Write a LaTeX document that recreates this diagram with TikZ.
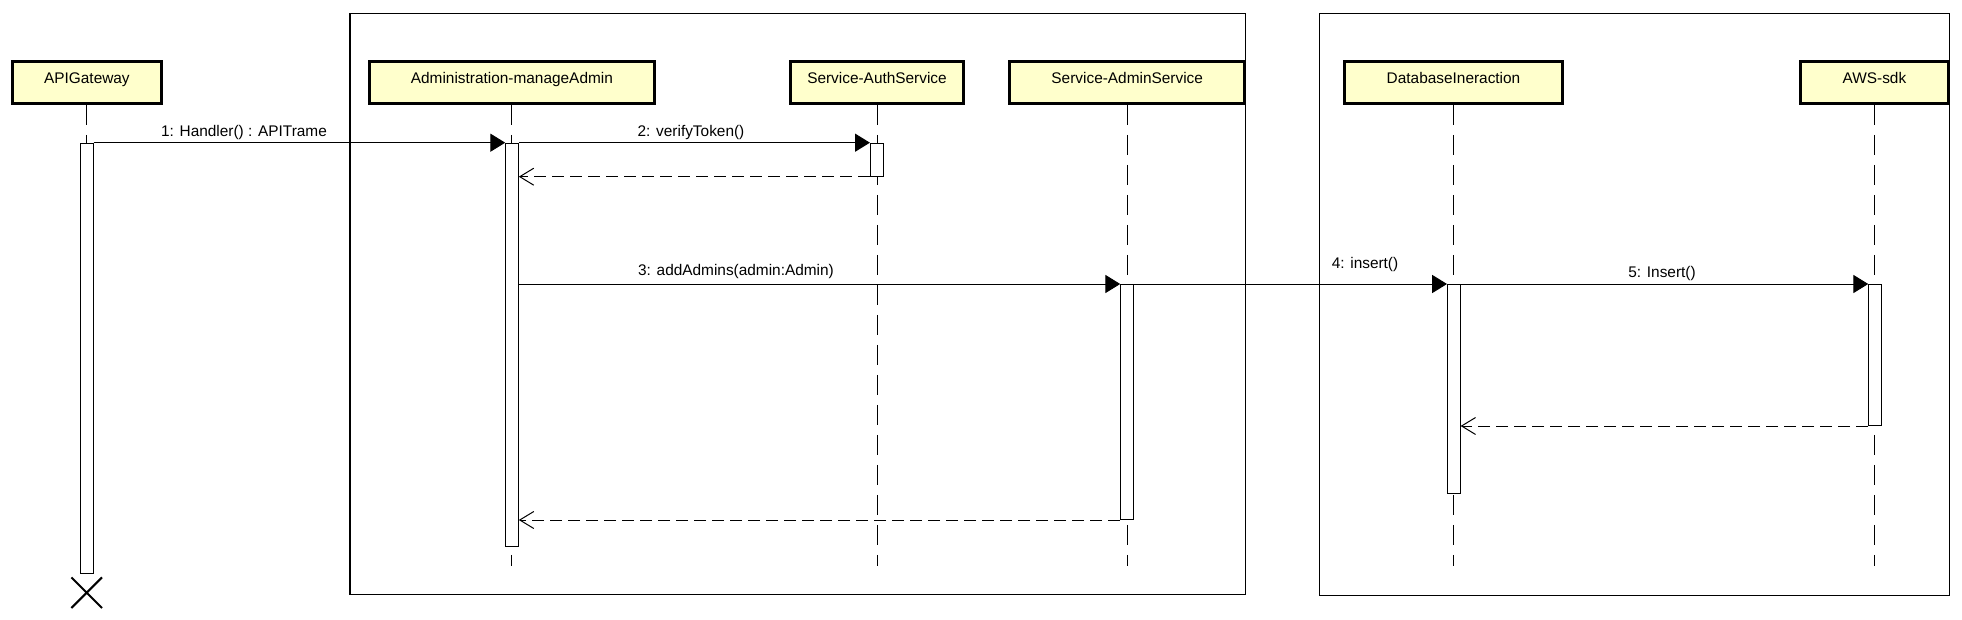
\documentclass[tikz,border=0pt]{standalone}
\usepackage{fontspec}
\setmainfont{Liberation Sans}
\usetikzlibrary{arrows.meta,shapes.misc}
\definecolor{objyellow}{RGB}{255,255,204}
\tikzstyle{obj}=[rectangle, fill=objyellow, draw=black, line width=1.5pt, minimum height=20.8pt, inner sep=0pt, text height=5.6pt, text depth=4.4pt, anchor=center, font=\fontsize{7.7}{9}\selectfont]
\tikzstyle{act}=[rectangle, fill=white, draw=black, line width=0.5pt, minimum width=6.3pt, inner sep=0pt, anchor=north]
\tikzstyle{lifeline}=[line width=0.5pt, dash pattern=on 10pt off 5pt]
\tikzstyle{call}=[line width=0.5pt, -{Triangle[length=7.4pt,width=9pt]}]
\tikzstyle{reply}=[line width=0.5pt, dash pattern=on 6pt off 3pt, -{Straight Barb[length=7pt,width=8.5pt]}]
\tikzstyle{msg}=[inner sep=0pt, font=\fontsize{7.7}{9}\selectfont]
\tikzstyle{grp}=[rectangle, draw=black, line width=0.6pt, inner sep=0pt, anchor=north west]

\begin{document}
\begin{tikzpicture}[x=0.5pt, y=-0.5pt]
	\useasboundingbox (0,0) rectangle (1962,620);

	% packages
	\node[grp, minimum width=447.7pt, minimum height=290.4pt] (grpService) at (349.3,13.3) {};
	\node[grp, minimum width=315pt, minimum height=290.8pt] (grpData) at (1319,13.3) {};

	\node[obj, minimum width=74.3pt] (oAPI) at (86.9,82.5) {APIGateway};
	\node[obj, minimum width=142.8pt] (oAdmin) at (511.9,82.5) {Administration-manageAdmin};
	\node[obj, minimum width=86.2pt] (oAuth) at (877,82.5) {Service-AuthService};
	\node[obj, minimum width=117.6pt] (oAdminSvc) at (1127.2,82.5) {Service-AdminService};
	\node[obj, minimum width=109.2pt] (oDb) at (1453.5,82.5) {DatabaseIneraction};
	\node[obj, minimum width=73.6pt] (oAws) at (1874.4,82.5) {AWS-sdk};

	\coordinate (lifeEnd) at (0,566);
	\foreach \o in {oAPI,oAdmin,oAuth,oAdminSvc,oDb,oAws}
		\draw[lifeline] (\o.south) -- (\o.south |- lifeEnd);

	% activations
	\node[act, minimum height=215.3pt] (aAPI) at (86.7,142.7) {};
	\node[act, minimum height=201.7pt] (aAdmin) at (512,142.7) {};
	\node[act, minimum height=16.5pt] (aAuth) at (876.7,142.7) {};
	\node[act, minimum height=117.5pt] (aAdminSvc) at (1127,284) {};
	\node[act, minimum height=104.5pt] (aDb) at (1453.8,284) {};
	\node[act, minimum height=70.5pt] (aAws) at (1875,284) {};

	\node[draw, cross out, line width=1pt, minimum size=14.3pt, inner sep=0pt] (endAPI) at (86.7,592.7) {};

	\draw[call] (aAPI.north east) -- (aAdmin.north west);
	\draw[call] (aAdmin.north east) -- (aAuth.north west);
	\draw[reply] (aAuth.south west) -- (aAdmin.east |- aAuth.south west);
	\draw[call] (aAdmin.east |- aAdminSvc.north) -- (aAdminSvc.north west);
	\draw[call] (aAdminSvc.north east) -- (aDb.north west);
	\draw[call] (aDb.north east) -- (aAws.north west);
	\draw[reply] (aAws.south west) -- (aDb.east |- aAws.south west);
	\draw[reply] (aAdminSvc.south west) -- (aAdmin.east |- aAdminSvc.south west);

	\node[msg] (m1) at (244,132.7) {1: Handler() : APITrame};
	\node[msg] (m2) at (691,132.7) {2: verifyToken()};
	\node[msg] (m3) at (736,271.7) {3: addAdmins(admin:Admin)};
	\node[msg] (m4) at (1365,265) {4: insert()};
	\node[msg] (m5) at (1662,274) {5: Insert()};

\end{tikzpicture}
\end{document}
